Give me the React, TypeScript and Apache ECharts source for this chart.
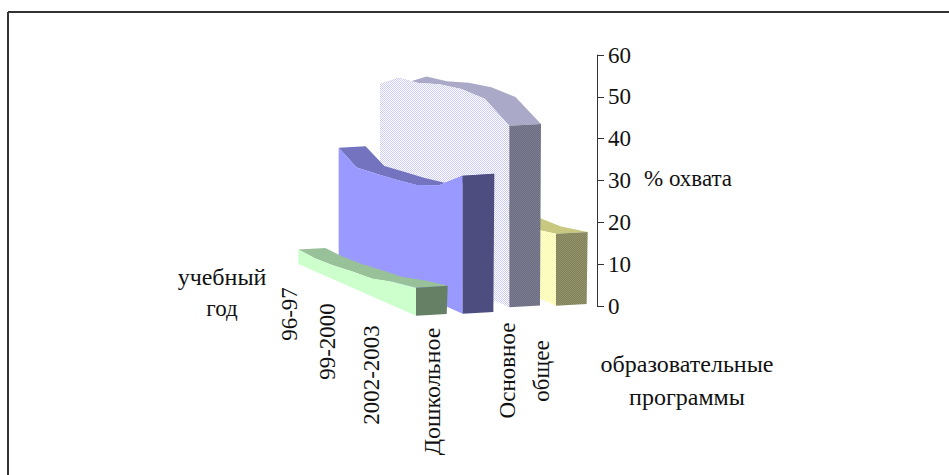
import React, { useEffect, useRef } from "react";
import * as echarts from "echarts";

// ---- data ----
const years = ["96-97", "97-98", "98-99", "99-2000", "2000-2001", "2001-2002", "2002-2003"];
const yearLabels = ["96-97", "99-2000", "2002-2003"];
const programmes = ["Дошкольное", "Начальное", "Основное общее", "Среднее"];
const preschool = [4.05, 3.6, 3.7, 4.2, 4.5, 5.9, 6.7];
const primary = [31.1, 27.1, 27.1, 27.1, 27.4, 29.0, 33.0];
const basic = [46.4, 49.2, 49.0, 49.8, 49.8, 48.6, 43.4];
const secondary = [18, 18, 17.5, 17, 16.5, 16.2, 17.2];
const valueTicks = [0, 10, 20, 30, 40, 50, 60];

// ---- projection of the 3-D look ----
const BACK_SCALE = 0.85;
const DEPTH_X = [-117.7, -124, -129.3, -134.5];
const DEPTH_Y = [-51.7, -55.4, -58.3, -60.5];
const FRONT_DROP = [9.7, 7.7, 1.3, -0.3];
const WIDTH_X = 31.7;
const WIDTH_Y = -1.8;

function makePattern(a: string, b: string) {
  const c = document.createElement("canvas");
  c.width = 2;
  c.height = 2;
  const g = c.getContext("2d")!;
  g.fillStyle = a;
  g.fillRect(0, 0, 2, 2);
  g.fillStyle = b;
  g.fillRect(0, 0, 1, 1);
  g.fillRect(1, 1, 1, 1);
  return { image: c, repeat: "repeat" };
}

function ribbonSeries(name: string, index: number, values: number[], colors: any) {
  return {
    type: "custom",
    name,
    coordinateSystem: "cartesian2d",
    silent: true,
    clip: false,
    data: [[index, values[values.length - 1]]],
    encode: { x: 0, y: 1 },
    renderItem: (_p: any, api: any) => {
      const front = api.coord([index, 0]);
      const unit = api.size([0, 1])[1];
      const n = values.length;
      const pts = values.map((v, i) => {
        const t = i / (n - 1);
        const s = 1 / (1 + (1 / BACK_SCALE - 1) * (1 - t));
        const q = (s - BACK_SCALE) / (1 - BACK_SCALE);
        const gx = front[0] + DEPTH_X[index] * (1 - q);
        const gy = front[1] + FRONT_DROP[index] + DEPTH_Y[index] * (1 - q);
        return {
          g: [gx, gy],
          top: [gx, gy - v * unit * s],
          backTop: [gx + WIDTH_X * s, gy - v * unit * s + WIDTH_Y * s],
        };
      });
      const last = pts[n - 1];
      const topPoly = [...pts.map((p) => p.top), ...pts.map((p) => p.backTop).reverse()];
      const facePoly = [...pts.map((p) => p.top), last.g, pts[0].g];
      const capPoly = [
        last.top,
        last.backTop,
        [last.g[0] + WIDTH_X - 1, last.g[1] + WIDTH_Y],
        last.g,
      ];
      const poly = (points: number[][], fill: any) => ({
        type: "polygon",
        shape: { points },
        style: { fill, stroke: null },
      });
      return {
        type: "group",
        children: [poly(topPoly, colors.top), poly(facePoly, colors.face), poly(capPoly, colors.cap)],
      };
    },
  };
}

export default function App() {
  const ref = useRef<HTMLDivElement>(null);
  useEffect(() => {
    const chart = echarts.init(ref.current!, undefined, { renderer: "svg" });
    const serif = "'Liberation Serif', serif";
    const text = (t: string, x: number, y: number, rot = 0, align = "center", size = 23) => ({
      type: "text",
      x,
      y,
      rotation: rot,
      style: { text: t, fill: "#111", font: `${size}px ${serif}`, textAlign: align, textVerticalAlign: "middle" },
    });
    const up = Math.PI / 2;
    const option: any = {
      animation: false,
      backgroundColor: "#fff",
      grid: { left: 416, top: 55, width: 181, height: 251 },
      xAxis: { type: "value", min: 0, max: 3.88, show: false },
      yAxis: {
        type: "value",
        position: "right",
        min: 0,
        max: 60,
        interval: 10,
        splitLine: { show: false },
        axisLine: { show: true, onZero: false, lineStyle: { color: "#333", width: 1 } },
        axisTick: { show: true, length: 7, lineStyle: { color: "#333" } },
        axisLabel: {
          color: "#111",
          fontFamily: serif,
          fontSize: 23,
          margin: 11,
          formatter: (v: number) => (valueTicks.includes(v) ? String(v) : ""),
        },
      },
      series: [
        ribbonSeries(programmes[3], 3, secondary, {
          top: "#c8c880",
          face: makePattern("#ffffff", "#ffff80"),
          cap: makePattern("#80805a", "#94946a"),
        }),
        ribbonSeries(programmes[2], 2, basic, {
          top: "#aaaac8",
          face: makePattern("#ffffff", "#ccccff"),
          cap: makePattern("#6c6c80", "#7c7c92"),
        }),
        ribbonSeries(programmes[1], 1, primary, { top: "#7373bf", face: "#9999ff", cap: "#4d4d80" }),
        ribbonSeries(programmes[0], 0, preschool, { top: "#99c199", face: "#ccffcc", cap: "#668066" }),
      ],
      graphic: [
        { type: "line", shape: { x1: 8, y1: 12, x2: 949, y2: 12 }, style: { stroke: "#333", lineWidth: 2 } },
        { type: "line", shape: { x1: 8, y1: 12, x2: 8, y2: 475 }, style: { stroke: "#333", lineWidth: 2 } },
        text(yearLabels[0], 289.5, 314, up),
        text(yearLabels[1], 327.5, 341.5, up),
        text(yearLabels[2], 371.5, 375, up),
        text(programmes[0], 431.5, 391.5, up, "center", 24),
        text("Основное", 507, 370.5, up),
        text("общее", 541.5, 371, up),
        text("учебный", 222, 277, 0, "center", 24),
        text("год", 222, 308),
        text("образовательные", 687, 364, 0, "center", 24),
        text("программы", 687, 397, 0, "center", 24),
        text("% охвата", 644, 178, 0, "left"),
      ],
    };
    chart.setOption(option);
    return () => chart.dispose();
  }, []);
  return <div ref={ref} style={{ position: "fixed", left: 0, top: 0, width: 949, height: 475 }} />;
}
